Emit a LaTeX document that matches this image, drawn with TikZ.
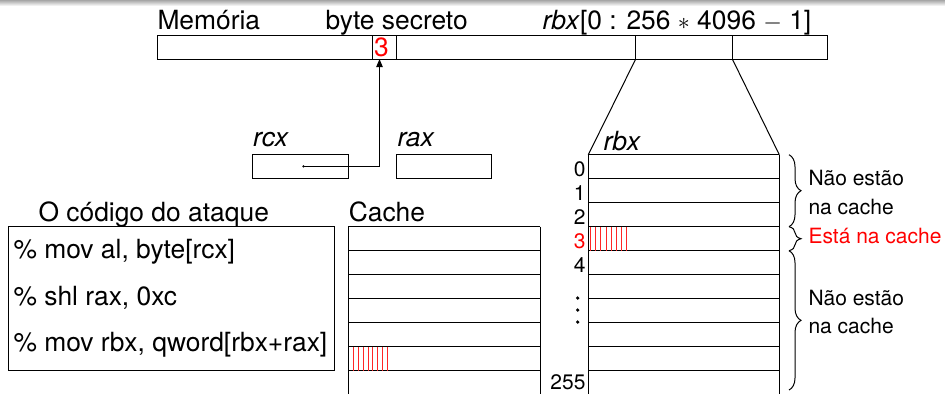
\documentclass[tikz,border=0pt]{standalone}
\usepackage{fontspec}
\setmainfont{TeX Gyre Heros}
\usepackage{tikz}
\usetikzlibrary{arrows.meta}
\usetikzlibrary{decorations.pathreplacing}

\begin{document}
\begin{tikzpicture}[x=0.5pt,y=-0.5pt,line width=0.5pt,
  font=\fontsize{13.2}{15}\selectfont,
  lbl/.style={anchor=base west,inner sep=0pt},
  side/.style={lbl,font=\fontsize{10.5}{12}\selectfont},
  idx/.style={anchor=base east,inner sep=0pt,font=\fontsize{10.5}{12}\selectfont},
  hatch/.style={red!85,line width=0.5pt},
  curly/.style={decorate,decoration={brace,amplitude=6pt}}]
\useasboundingbox (0,0) rectangle (945,393);
\shade[top color=gray!70,bottom color=white] (0,0) rectangle (945,6);

% memoria
\node[lbl] (mem) at (157,29) {Memória};
\node[lbl] (secret) at (325,29) {byte secreto};
\node[lbl] (range) at (542,29) {\textit{rbx}[0 : 256 $\ast$ 4096 $-$ 1]};
\draw (157,35) rectangle (827.7,59);
\draw (372.3,35) -- (372.3,59);
\draw (396,35) -- (396,59);
\draw (635.7,35) -- (635.7,59);
\draw (732.3,35) -- (732.3,59);
\node[text=red,inner sep=0pt] (byte3) at (381.5,47.5) {3};
\coordinate (cellbot) at (379.5,59);
\coordinate (rbxa) at (635.7,59);
\coordinate (rbxb) at (732.3,59);

% registradores
\node[lbl] (rcx) at (252.7,146) {\textit{rcx}};
\node[lbl] (rax) at (397,146) {\textit{rax}};
\draw (252.7,154.3) rectangle (348.3,178.3);
\draw (396.7,154.3) rectangle (491.7,178.3);
\coordinate (rcxptr) at (303.5,166.3);
\fill (rcxptr) circle (1.3);
\draw[-{Triangle[length=4pt,width=3.2pt]}] (rcxptr) -| (cellbot);

% codigo
\node[lbl] (code) at (38,221.7) {O código do ataque};
\draw (8.3,226.7) rectangle (334.3,370);
\node[lbl] (ins1) at (13,258) {\% mov al, byte[rcx]};
\node[lbl] (ins2) at (13,305) {\% shl rax, 0xc};
\node[lbl] (ins3) at (13,351.7) {\% mov rbx, qword[rbx+rax]};

% cache
\node[lbl] (cache) at (348.3,221.7) {Cache};
\draw (348.3,226.7) -- (348.3,395);
\draw (540,226.7) -- (540,395);
\foreach \k in {0,...,6}
  \draw (348.3,226.7+24*\k) -- (540,226.7+24*\k);
\foreach \k in {0,...,7}
  \draw[hatch] (353.3+4.9*\k,346.7) -- (353.3+4.9*\k,370.7);

% tabela rbx
\node[lbl] (rbx) at (603,150.7) {\textit{rbx}};
\coordinate (tabl) at (588.3,154.7);
\coordinate (tabr) at (779.3,154.7);
\draw (rbxa) -- (tabl);
\draw (rbxb) -- (tabr);
\draw (tabl) -- (588.3,395);
\draw (tabr) -- (779.3,395);
\foreach \k in {0,...,9}
  \draw (588.3,154.7+24*\k) -- (779.3,154.7+24*\k);
\foreach \k in {0,...,7}
  \draw[hatch] (590.5+5.2*\k,226.7) -- (590.5+5.2*\k,250.7);
\node[idx] (i0) at (586,176.7) {0};
\node[idx] (i1) at (586,200.7) {1};
\node[idx] (i2) at (586,224.7) {2};
\node[idx,text=red] (i3) at (586,248.7) {3};
\node[idx] (i4) at (586,272.7) {4};
\node[idx] (i255) at (586,389) {255};
\foreach \y in {298,310,322}
  \fill (577.7,\y) circle (1.8);

% chaves
\draw[curly] (789,154.7) -- (789,226.7);
\draw[curly] (789,226.7) -- (789,250.7);
\draw[curly] (789,250.7) -- (789,390);
\node[side] (out1) at (808,185) {Não estão};
\node[side] (out1b) at (808,214) {na cache};
\node[side,text=red] (in3) at (808,243.3) {Está na cache};
\node[side] (out2) at (808,305) {Não estão};
\node[side] (out2b) at (808,333) {na cache};
\end{tikzpicture}
\end{document}
